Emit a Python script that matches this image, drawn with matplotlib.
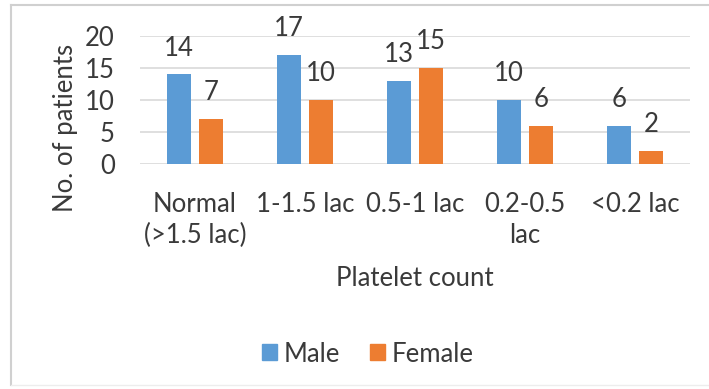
import matplotlib
matplotlib.use("Agg")
import matplotlib.pyplot as plt
import numpy as np
from matplotlib.patches import Patch
from matplotlib.lines import Line2D

categories = ["Normal\n(>1.5 lac)", "1-1.5 lac", "0.5-1 lac", "0.2-0.5\nlac", "<0.2 lac"]
male = [14, 17, 13, 10, 6]
female = [7, 10, 15, 6, 2]
yticks = [0, 5, 10, 15, 20]

blue = "#5B9BD5"
orange = "#ED7D31"
txt = "#3A3A3A"
grid = "#D9D9D9"

plt.rcParams["font.family"] = ["Lato", "DejaVu Sans"]
plt.rcParams["font.size"] = 18.5

fig = plt.figure(figsize=(7.09, 3.89), dpi=100)
ax = fig.add_axes([140 / 709, 1 - 164 / 389, 550 / 709, 128 / 389])

x = np.arange(len(categories))
w = 0.22
off = 0.145
b1 = ax.bar(x - off, male, w, color=blue, zorder=3)
b2 = ax.bar(x + off, female, w, color=orange, zorder=3)

for bars, vals in ((b1, male), (b2, female)):
    for b, v in zip(bars, vals):
        ax.annotate(str(v), (b.get_x() + b.get_width() / 2, v), xytext=(0, 13.5),
                    textcoords="offset points", ha="center", va="baseline", color=txt)

ax.set_xlim(-0.5, len(categories) - 0.5)
ax.set_ylim(0, 20)
ax.set_yticks(yticks)
ax.set_xticks(x)
ax.set_xticklabels(categories, linespacing=1.3)
ax.yaxis.grid(True, color=grid, linewidth=1.2, zorder=0)
for s in ax.spines.values():
    s.set_visible(False)
ax.tick_params(axis="both", length=0, colors=txt)
ax.tick_params(axis="y", pad=18)
ax.tick_params(axis="x", pad=20)

ax.set_xlabel("Platelet count", color=txt, labelpad=13)
fig.text(66 / 709, 1 - 128 / 389, "No. of patients", rotation=90, ha="center", va="center",
         color=txt)

handles = [Patch(color=blue, label="Male"), Patch(color=orange, label="Female")]
fig.legend(handles=handles, loc="center", bbox_to_anchor=(368 / 709, 1 - 354 / 389), ncol=2,
           frameon=False, handlelength=0.58, handleheight=0.58, handletextpad=0.28,
           columnspacing=1.15, labelcolor=txt)

# chart frame
fig.add_artist(Line2D([11 / 709, 11 / 709], [1 - 385 / 389, 1 - 5 / 389], transform=fig.transFigure,
                      color="#D0D0D0", linewidth=1.5))
fig.add_artist(Line2D([11 / 709, 1], [1 - 5 / 389, 1 - 5 / 389], transform=fig.transFigure,
                      color="#D0D0D0", linewidth=1.5))
fig.add_artist(Line2D([11 / 709, 1], [1 - 385 / 389, 1 - 385 / 389], transform=fig.transFigure,
                      color="#EDEDED", linewidth=1))

fig.savefig("out.png", dpi=100)
